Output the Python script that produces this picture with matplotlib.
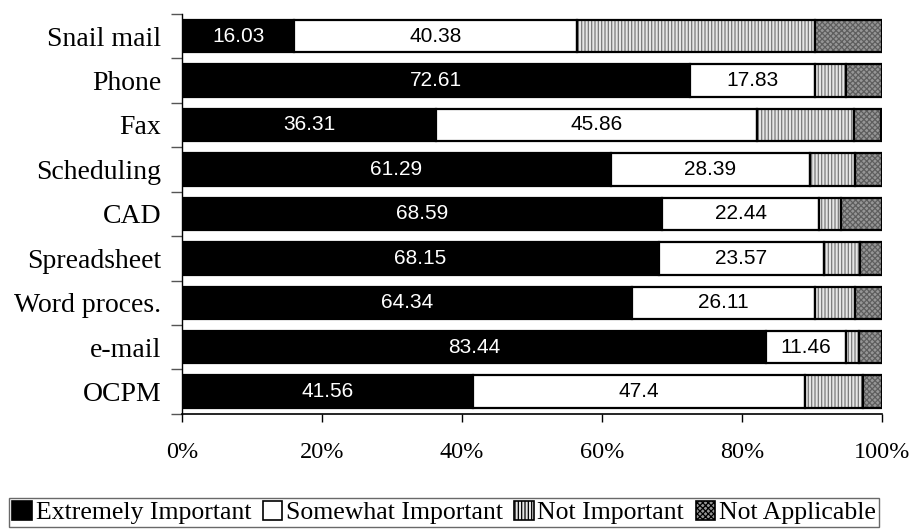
import matplotlib
matplotlib.use("Agg")
import matplotlib.pyplot as plt
from matplotlib.patches import Patch
import numpy as np

categories = ["Snail mail", "Phone", "Fax", "Scheduling", "CAD",
              "Spreadsheet", "Word proces.", "e-mail", "OCPM"]
extremely = [16.03, 72.61, 36.31, 61.29, 68.59, 68.15, 64.34, 83.44, 41.56]
somewhat = [40.38, 17.83, 45.86, 28.39, 22.44, 23.57, 26.11, 11.46, 47.4]
not_important = [34.1, 4.5, 13.9, 6.45, 3.2, 5.1, 5.7, 1.9, 8.35]
not_applicable = [9.5, 5.05, 3.8, 3.87, 5.77, 3.2, 3.9, 3.2, 2.7]
series_names = ["Extremely Important", "Somewhat Important",
                "Not Important", "Not Applicable"]
xticks = [0, 20, 40, 60, 80, 100]

serif = ["Liberation Serif", "DejaVu Serif"]
sans = ["Liberation Sans", "DejaVu Sans"]

plt.rcParams["hatch.linewidth"] = 0.9

styles = [
    dict(fc="black", hatch=None, hc="black"),
    dict(fc="white", hatch=None, hc="white"),
    dict(fc="#e6e6e6", hatch="|||||", hc="#7a7a7a"),
    dict(fc="#969696", hatch="xxxxxx", hc="#5e5e5e"),
]

fig = plt.figure(figsize=(9.1, 5.3), dpi=100)
ax = fig.add_axes([0.2, 0.219, 0.769, 0.755])

data = np.array([extremely, somewhat, not_important, not_applicable])
y = np.arange(len(categories))
left = np.zeros(len(categories))
bar_h = 0.73
for vals, st in zip(data, styles):
    ax.barh(y, vals, left=left, height=bar_h, color=st["fc"],
            hatch=st["hatch"], edgecolor=st["hc"], linewidth=0)
    ax.barh(y, vals, left=left, height=bar_h, fill=False,
            edgecolor="black", linewidth=1.6)
    left += vals

# value labels for the two first series
for i in range(len(categories)):
    ax.text(extremely[i] / 2, y[i], f"{extremely[i]:g}", ha="center",
            va="center", color="white", fontsize=15, family=sans)
    ax.text(extremely[i] + somewhat[i] / 2, y[i], f"{somewhat[i]:g}",
            ha="center", va="center", color="black", fontsize=15, family=sans)

ax.set_xlim(0, 100)
ax.set_ylim(len(categories) - 0.5, -0.5)
ax.set_xticks(xticks)
ax.set_xticklabels([f"{v}%" for v in xticks], family=serif, fontsize=17.5)
ax.tick_params(axis="x", length=6, width=1, pad=14)

ax.set_yticks(np.arange(len(categories) + 1) - 0.5)
ax.set_yticklabels([])
ax.set_yticks(y, minor=True)
ax.set_yticklabels(categories, minor=True, family=serif, fontsize=20)
ax.tick_params(axis="y", which="major", length=8, width=1, color="#555555")
ax.tick_params(axis="y", which="minor", length=0, pad=15)

for s in ["top", "right"]:
    ax.spines[s].set_visible(False)
ax.spines["left"].set_linewidth(1)
ax.spines["bottom"].set_linewidth(1.2)

handles = [Patch(facecolor=st["fc"], hatch=st["hatch"], edgecolor="black",
                 linewidth=1.2) for st in styles]
leg = fig.legend(handles, series_names, loc="lower center",
                 bbox_to_anchor=(0.488, 0.0), ncol=4, frameon=True,
                 prop={"family": serif, "size": 18.5}, handlelength=0.75,
                 handleheight=0.75, handletextpad=0.15, columnspacing=0.45,
                 borderpad=0.12, borderaxespad=0.1, fancybox=False)
leg.get_frame().set_edgecolor("#444444")
leg.get_frame().set_linewidth(1)

fig.savefig("out.png", dpi=100)
